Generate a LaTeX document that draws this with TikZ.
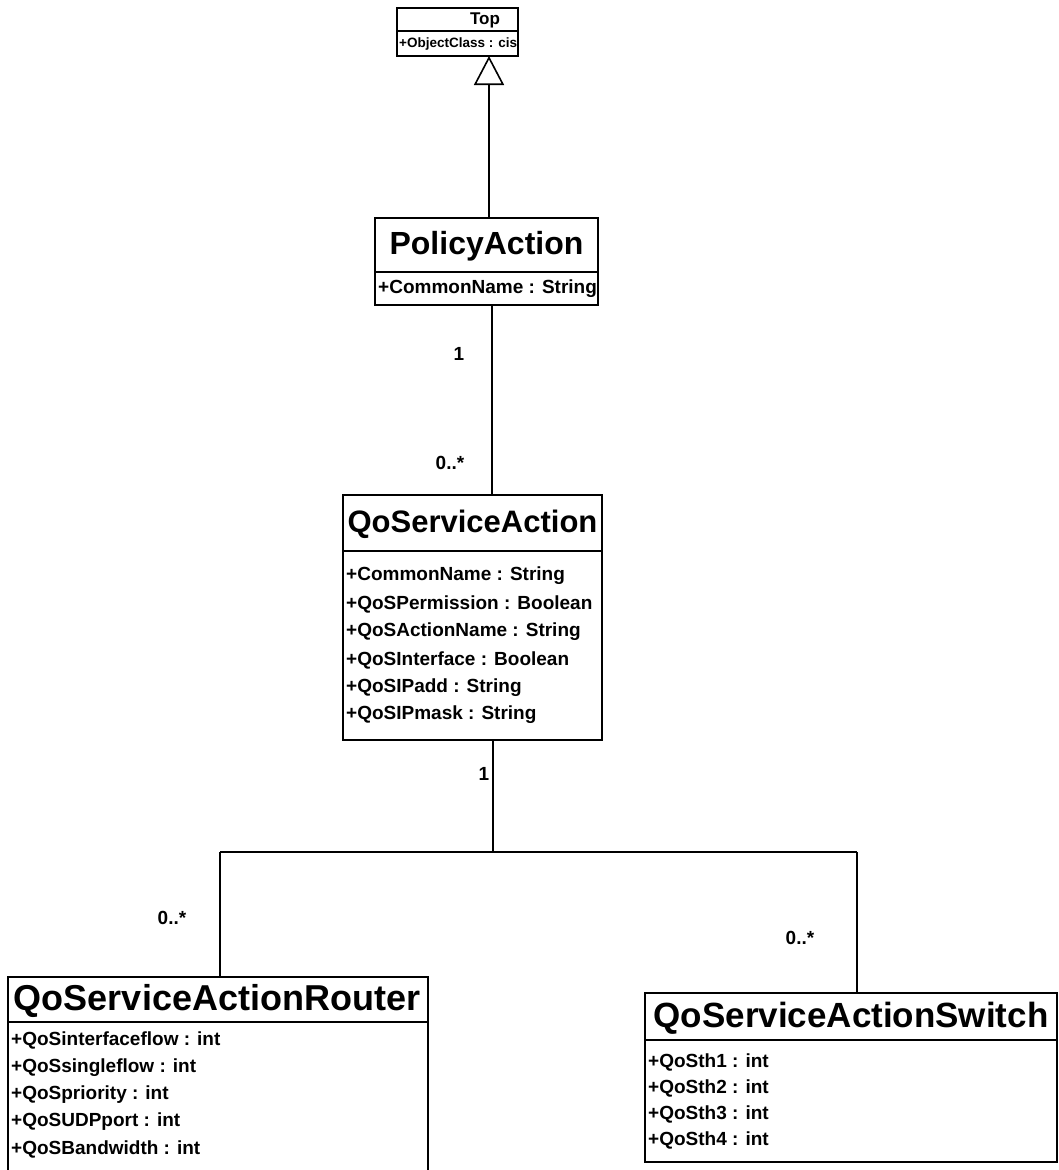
\documentclass[tikz,border=0pt]{standalone}
\usepackage{fontspec}
\setmainfont{Liberation Sans}
\usetikzlibrary{calc,arrows.meta}
\newcommand{\fsz}[1]{\fontsize{#1}{#1}\selectfont}
\begin{document}
\begin{tikzpicture}[x=1pt,y=-1pt,
  classbox/.style={draw,line width=2pt,anchor=north west,inner sep=0pt,outer sep=0pt},
  divider/.style={line width=1.6pt},
  conn/.style={line width=1.4pt},
  title/.style={inner sep=0pt,font=\bfseries\fsz{#1}},
  attr/.style={anchor=west,inner sep=0pt,font=\bfseries\fsz{19}},
  mult/.style={inner sep=0pt,font=\bfseries\fsz{19}},
]
\useasboundingbox (0,0) rectangle (1058,1170);

% --- Top ---
\node[classbox,minimum width=121pt,minimum height=48pt] (top) at (397,8) {};
\draw[divider] (397,31) -- (518,31);
\node[title=17] at (485,20) {Top};
\node[anchor=west,inner sep=0pt,font=\bfseries\fsz{13.5}] at (399,44) {+ObjectClass : cis};

% --- PolicyAction ---
\node[classbox,minimum width=223pt,minimum height=87pt] (pa) at (375,218) {};
\draw[divider] (375,272) -- (598,272);
\node[title=32] at (486.5,246) {PolicyAction};
\node[attr] at (378,289) {+CommonName : String};

% --- QoServiceAction ---
\node[classbox,minimum width=259pt,minimum height=245pt] (qsa) at (343,495) {};
\draw[divider] (343,551) -- (602,551);
\node[title=31] at (472.5,524) {QoServiceAction};
\node[attr] at (346,576) {+CommonName : String};
\node[attr] at (346,604) {+QoSPermission : Boolean};
\node[attr] at (346,632) {+QoSActionName : String};
\node[attr] at (346,660) {+QoSInterface : Boolean};
\node[attr] at (346,688) {+QoSIPadd : String};
\node[attr] at (346,715) {+QoSIPmask : String};

% --- QoServiceActionRouter (runs past the lower edge) ---
\node[classbox,minimum width=420pt,minimum height=215pt] (rt) at (8,977) {};
\draw[divider] (8,1022) -- (428,1022);
\node[title=36] at (217,1001) {QoServiceActionRouter};
\node[attr] at (11,1040) {+QoSinterfaceflow : int};
\node[attr] at (11,1068) {+QoSsingleflow : int};
\node[attr] at (11,1095) {+QoSpriority : int};
\node[attr] at (11,1122) {+QoSUDPport : int};
\node[attr] at (11,1149) {+QoSBandwidth : int};

% --- QoServiceActionSwitch ---
\node[classbox,minimum width=412pt,minimum height=169pt] (sw) at (645,993) {};
\draw[divider] (645,1040) -- (1057,1040);
\node[title=35] at (851,1018) {QoServiceActionSwitch};
\node[attr] at (648,1062) {+QoSth1 : int};
\node[attr] at (648,1088) {+QoSth2 : int};
\node[attr] at (648,1114) {+QoSth3 : int};
\node[attr] at (648,1140) {+QoSth4 : int};

% --- generalisation: PolicyAction -> Top ---
\coordinate (gx) at (489,0);
\draw[conn,-{Triangle[open,length=29pt,width=30pt,line width=1.6pt]}]
  (pa.north -| gx) -- (top.south -| gx);

% --- association PolicyAction -- QoServiceAction ---
\coordinate (ax) at (492,0);
\draw[conn] (pa.south -| ax) -- (qsa.north -| ax);
\node[mult] (m1) at (459,354) {1};
\node[mult] (m2) at (450,463) {0..*};

% --- association QoServiceAction -- router / switch ---
\coordinate (bx) at (493,0);
\coordinate (fork) at (493,852);
\coordinate (lx) at (220,0);
\coordinate (rx) at (857,0);
\draw[conn] (qsa.south -| bx) -- (fork);
\draw[conn] (fork -| lx) -- (fork -| rx);
\draw[conn] (fork -| lx) -- (rt.north -| lx);
\draw[conn] (fork -| rx) -- (sw.north -| rx);
\node[mult] (m3) at (484,774) {1};
\node[mult] (m4) at (172,918) {0..*};
\node[mult] (m5) at (800,938) {0..*};
\end{tikzpicture}
\end{document}
